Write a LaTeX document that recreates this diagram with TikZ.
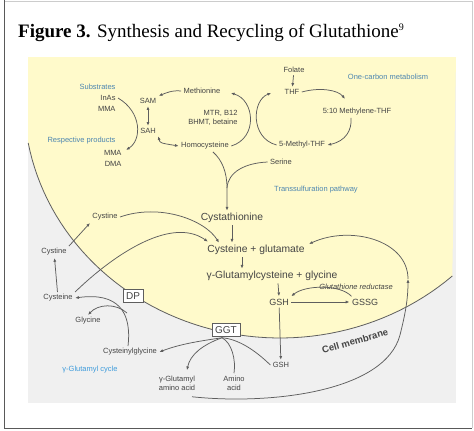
\documentclass[tikz,border=0pt]{standalone}
\usepackage{fontspec}
\setmainfont{Liberation Sans}
\newfontfamily\titlefont{Liberation Serif}
\usetikzlibrary{arrows.meta,calc}
\definecolor{cyto}{HTML}{FFFACB}
\definecolor{panel}{HTML}{F0F0F0}
\definecolor{txt}{HTML}{444444}
\definecolor{ln}{HTML}{5E5E5E}
\definecolor{bluelab}{HTML}{4D86B0}
\definecolor{cyclelab}{HTML}{3E9BDB}
\tikzset{
  lab/.style={font=\fontsize{7.5}{9}\selectfont, text=txt, inner sep=1pt, outer sep=1.5pt},
  main/.style={font=\fontsize{10.3}{12}\selectfont, text=txt, inner sep=1pt, outer sep=1.5pt},
  bluetxt/.style={lab, text=bluelab},
  enzbox/.style={draw=ln, fill=white, font=\fontsize{10}{11}\selectfont, text=txt, inner sep=3pt},
  arr/.style={draw=ln, line width=0.75pt, -{Latex[length=3.8pt,width=3pt]}},
  dblarr/.style={arr, {Latex[length=3.8pt,width=3pt]}-{Latex[length=3.8pt,width=3pt]}},
  link/.style={draw=ln, line width=0.75pt},
}
\begin{document}
\begin{tikzpicture}[x=1pt,y=-1pt]
\useasboundingbox (0,0) rectangle (474,431);
% frame and title
\draw[gray!40, line width=0.6pt] (4,1) -- (472,1) -- (472,428);
\draw[gray!70!black, line width=1pt] (4,0) -- (4,428) -- (472,428);
\node[anchor=base west, inner sep=0pt, font=\titlefont\fontsize{19}{22}\selectfont] (title) at (18,37)
  {\textbf{Figure 3.} Synthesis and Recycling of Glutathione\raisebox{6.5pt}{\fontsize{10}{10}\selectfont 9}};
% cell and membrane
\fill[panel] (28,57) rectangle (456,403);
\fill[cyto] (28,57) -- (456,57) -- plot[domain=47.7:169.6, samples=60, variable=\t] ({280+256*cos(\t)},{100+238*sin(\t)}) -- cycle;
\draw[ln, line width=0.8pt] plot[domain=47.7:169.6, samples=60, variable=\t] ({280+256*cos(\t)},{100+238*sin(\t)});
\node[font=\bfseries\fontsize{9.5}{10}\selectfont, text=txt, rotate=16] (cm) at (355,341) {Cell membrane};

% arsenic methylation
\node[bluetxt, anchor=east] (subs) at (118,87) {Substrates};
\node[lab, anchor=east] (inas) at (118,98) {InAs};
\node[lab, anchor=east] (mmaa) at (118,109) {MMA};
\node[bluetxt, anchor=east] (resp) at (118,141) {Respective products};
\node[lab, anchor=east] (mmab) at (124,153) {MMA};
\node[lab, anchor=east] (dma) at (124,164) {DMA};
\draw[arr] (inas.east) .. controls (142,112) and (142,140) .. ($(resp.east)+(8,9)$);

% methionine cycle
\node[lab] (sam) at (148,101) {SAM};
\node[lab] (sah) at (148,131) {SAH};
\node[lab] (met) at (202,91) {Methionine};
\node[lab] (hcy) at (205,146) {Homocysteine};
\node[lab, align=right, anchor=east] (mtr) at (240,118) {MTR, B12\\BHMT, betaine};
\draw[arr] (met.west) .. controls (172,90) and (166,93) .. (sam.north east);
\draw[dblarr] (sam) -- (sah);
\draw[dblarr] (sah.south east) .. controls (160,143) .. (hcy.west);
\draw[arr] (hcy.east) .. controls (258,138) and (255,100) .. ($(met.east)+(8,2)$);

% one-carbon metabolism
\node[lab] (folate) at (294,70) {Folate};
\node[lab] (thf) at (292,92) {THF};
\node[lab] (mthf) at (357,112) {5:10 Methylene-THF};
\node[lab] (methyl) at (302,145) {5-Methyl-THF};
\node[bluetxt] (onec) at (388,77) {One-carbon metabolism};
\draw[arr] (folate) -- (thf);
\draw[arr] (thf.east) .. controls (320,87) and (338,90) .. ($(mthf.north)+(-12,-7)$);
\draw[arr] ($(mthf.south)+(-6,0)$) .. controls (352,130) and (346,141) .. (methyl.east);
\draw[arr] (methyl.west) .. controls (250,138) and (252,100) .. ($(thf.west)+(-11,1)$);

% transsulfuration
\node[lab] (ser) at (281,162) {Serine};
\node[bluetxt] (trans) at (316,190) {Transsulfuration pathway};
\node[main] (ctn) at (232,218) {Cystathionine};
\node[main] (cysglu) at (256,250) {Cysteine + glutamate};
\node[main] (gglu) at (272,276) {γ-Glutamylcysteine + glycine};
\node[lab, font=\itshape\fontsize{7.5}{9}\selectfont] (gr) at (356,287) {Glutathione reductase};
\node[main, font=\fontsize{9}{10}\selectfont] (gsh) at (279,302) {GSH};
\node[main, font=\fontsize{9}{10}\selectfont] (gssg) at (365,302) {GSSG};
\coordinate (junc) at (227,188);
\draw[arr] ($(hcy.south)+(8,0)$) .. controls (222,160) and (227,172) .. (junc) -- ($(ctn.north)+(-5,0)$);
\draw[link] (ser.west) .. controls (245,163) and (228,172) .. (junc);
\draw[arr] (ctn.south) -- (ctn.south |- cysglu.north);
\draw[arr] ($(cysglu.south)+(-14,0)$) -- ($(gglu.north)+(-30,0)$);
\draw[arr] ($(gglu.south)+(6,0)$) -- (gsh.north);
\draw[arr] (gsh) -- (gssg);
\draw[arr] ($(gssg.north west)+(2,0)$) .. controls (340,284) and (305,285) .. (gsh.north east);

% gamma-glutamyl cycle
\node[lab] (gsho) at (281,365) {GSH};
\node[enzbox] (ggt) at (226,330) {GGT};
\node[enzbox] (dp) at (133,296) {DP};
\node[lab] (cysgly) at (130,352) {Cysteinylglycine};
\node[lab, align=center] (gaa) at (177,383) {γ-Glutamyl\\amino acid};
\node[lab, align=center] (aa) at (234,383) {Amino\\acid};
\node[lab, text=cyclelab] (ggc) at (90,370) {γ-Glutamyl cycle};
\node[lab] (gly) at (88,321) {Glycine};
\node[lab] (cysout) at (58,298) {Cysteine};
\node[lab] (cysto) at (54,252) {Cystine};
\node[lab] (cysin) at (105,217) {Cystine};
\coordinate (ggtb) at ($(ggt.south)+(-4,1)$);
\coordinate (dpj) at (127,313);
\coordinate (rcp) at (408,279);
\draw[arr] (gsh) -- (gsho);
\draw[arr] (gsho.west) .. controls (255,350) and (238,339) .. (ggtb) .. controls (200,341) and (180,344) .. (cysgly.east);
\draw[arr] (ggtb) .. controls (202,345) and (190,355) .. ($(gaa.north)+(10,-3)$);
\draw[link] (aa.north) .. controls (236,360) and (232,343) .. (ggtb);
\draw[arr] ($(gaa.south)+(15,4)$) .. controls (270,405) and (385,392) .. (400,335) .. controls (405,315) and (408,300) .. (rcp);
\draw[arr] (rcp) .. controls (408,240) and (350,225) .. ($(cysglu.east)+(2,-6)$);
\draw[arr] ($(cysgly.north)+(-2,0)$) .. controls (132,312) and (118,292) .. (cysout.east);
\draw[arr] (dpj) .. controls (116,303) and (98,304) .. (gly.north);
\draw[arr] (cysout) -- (cysto);
\draw[arr] (cysto.north east) -- (cysin.south west);
\draw[arr] (cysout.north east) .. controls (110,258) and (170,215) .. ($(cysglu.north west)+(3,-1)$);
\draw[arr] (cysin.east) .. controls (160,203) and (205,220) .. ($(cysglu.north west)+(14,0)$);
\end{tikzpicture}
\end{document}
